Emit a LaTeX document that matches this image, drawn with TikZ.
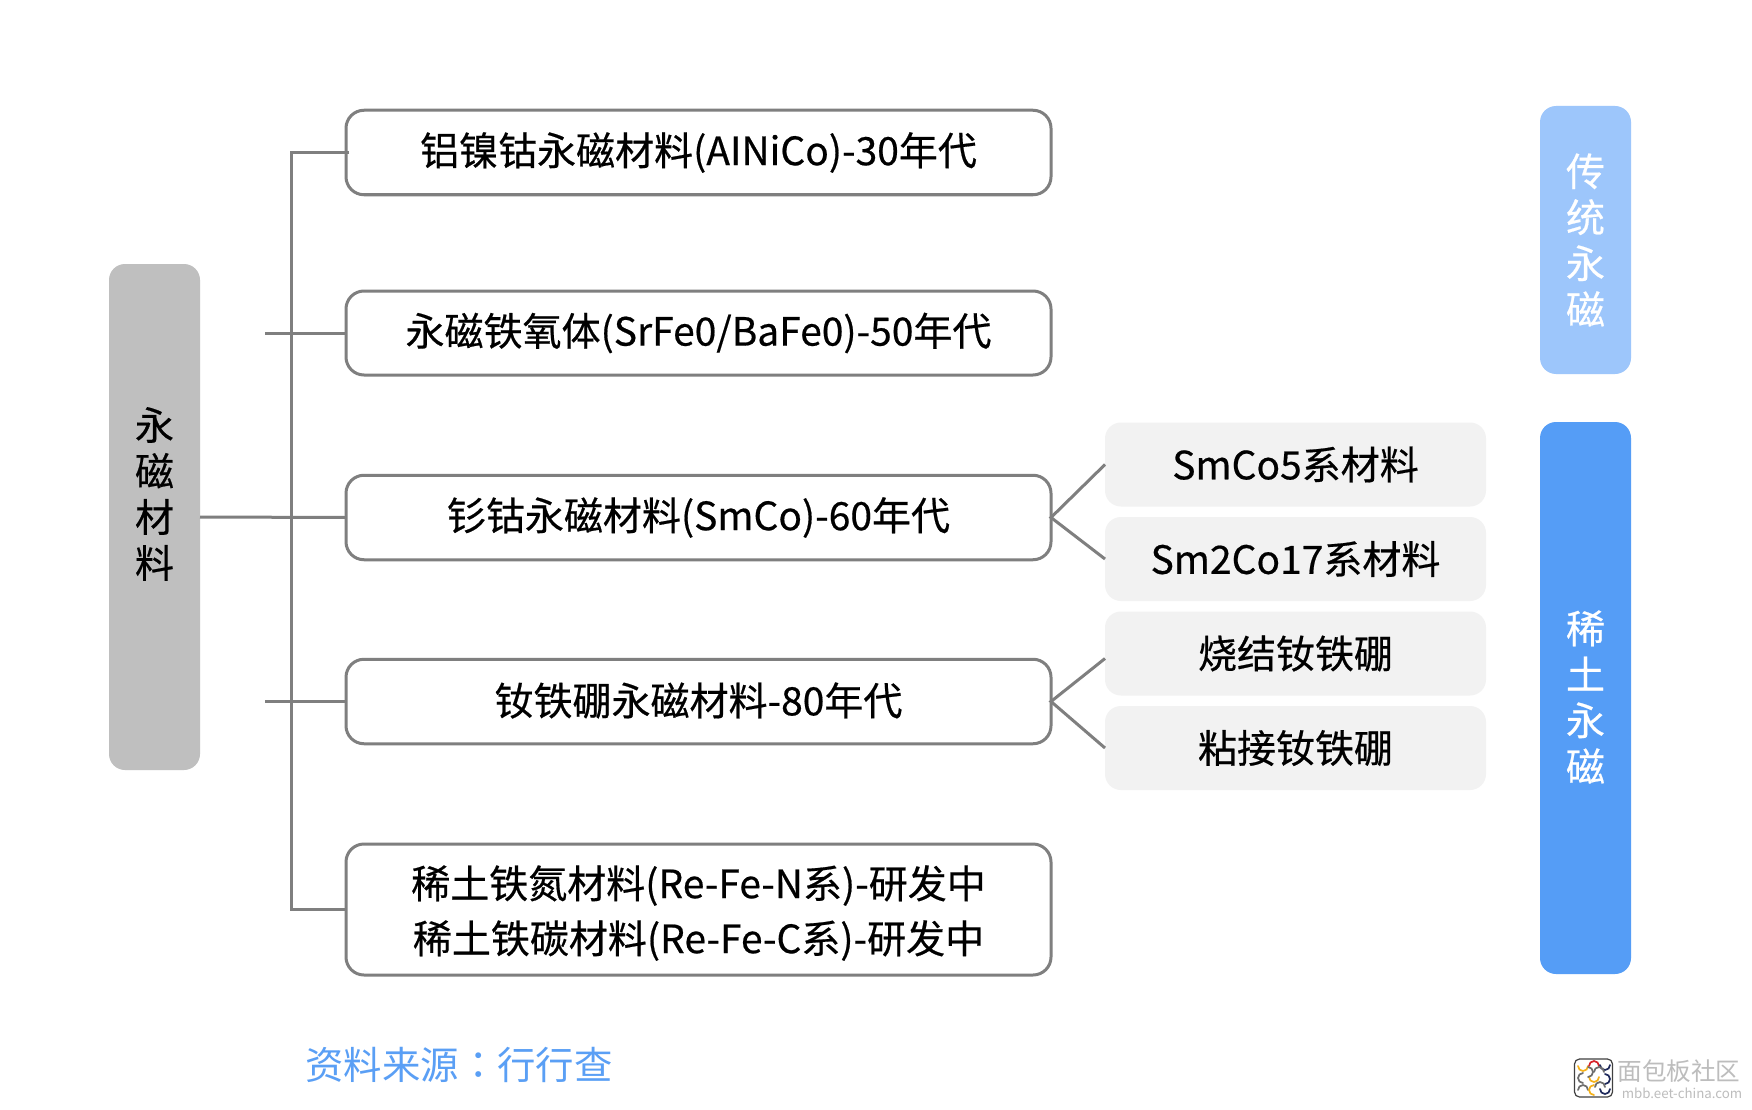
\documentclass[tikz,border=0pt]{standalone}
\usepackage{fontspec}
\setmainfont{Noto Sans CJK SC}
\newfontfamily\heavycjk[RawFeature={embolden=0.5}]{Noto Sans CJK SC}
\newfontfamily\centredpunct{Noto Sans CJK TC}
\newcommand{\nudged}[2]{\raisebox{#1}[\height][\depth]{#2}}
\definecolor{linegray}{HTML}{7F7F7F}
\definecolor{subgray}{HTML}{F2F2F2}
\definecolor{barroot}{HTML}{BFBFBF}
\definecolor{barT}{HTML}{9DC6FB}
\definecolor{barR}{HTML}{559DF6}
\definecolor{srcblue}{HTML}{5A9FF5}
\definecolor{markgray}{HTML}{BDBDBD}
\definecolor{logoorange}{HTML}{F5B21B}
\definecolor{logored}{HTML}{D8232A}
\definecolor{logonavy}{HTML}{1F2A5C}
\definecolor{logogray}{HTML}{6E6E6E}
\begin{document}
\begin{tikzpicture}[x=1pt,y=-1pt,
  line/.style={draw=linegray,line width=3pt},
  lbl/.style={font=\heavycjk\fontsize{39}{55}\selectfont,text=black,align=center,inner sep=0pt,outer sep=0pt},
  mainbox/.style={lbl,draw=linegray,line width=3pt,rounded corners=18pt,fill=white,minimum width=705pt},
  subbox/.style={lbl,fill=subgray,rounded corners=16pt,minimum width=381pt,minimum height=84pt},
  sidebar/.style={inner sep=0pt,outer sep=0pt,rounded corners=16pt,minimum width=91pt},
  vlbl/.style={font=\heavycjk\fontsize{39}{46}\selectfont,align=center,inner sep=0pt},
  curl/.style={line width=1.7pt,line cap=round}
]
\useasboundingbox (0,0) rectangle (1752,1110);
\fill[white] (0,0) rectangle (1752,1110);

% root bar and the two category bars, with their upright labels
\node[sidebar,fill=barroot,minimum height=506pt] (root) at (154.5,517) {};
\node[vlbl,text=black] (rootlbl) at (154.5,494) {永\\磁\\材\\料};
\node[sidebar,fill=barT,minimum height=268pt] (trad) at (1585.5,240) {};
\node[vlbl,text=white] (tradlbl) at (1585.5,240) {传\\统\\永\\磁};
\node[sidebar,fill=barR,minimum height=552pt] (rare) at (1585.5,698) {};
\node[vlbl,text=white] (rarelbl) at (1585.5,697) {稀\\土\\永\\磁};

% main generations
\node[mainbox,minimum height=84.5pt] (a) at (698.5,152.5) {铝镍钴永磁材料(AINiCo)-30年代};
\node[mainbox,minimum height=84pt] (b) at (698.5,333) {永磁铁氧体(SrFe0/BaFe0)-50年代};
\node[mainbox,minimum height=84.5pt] (c) at (698.5,517.5) {钐钴永磁材料(SmCo)-60年代};
\node[mainbox,minimum height=84.5pt] (d) at (698.5,701.5) {\nudged{1pt}{钕铁硼永磁材料-80年代}};
\node[mainbox,minimum height=131pt] (e) at (698.5,909.5) {\nudged{-3.5pt}{稀土铁氮材料(Re-Fe-N系)-研发中}\\\nudged{-3.5pt}{稀土铁碳材料(Re-Fe-C系)-研发中}};

% sub-families
\node[subbox] (s1) at (1295.5,464.5) {SmCo5系材料};
\node[subbox] (s2) at (1295.5,559) {Sm2Co17系材料};
\node[subbox] (s3) at (1295.5,653.5) {烧结钕铁硼};
\node[subbox] (s4) at (1295.5,748) {粘接钕铁硼};

% tree trunk and branches
\coordinate (stubB) at (265,333);
\coordinate (stubD) at (265,701.5);
\draw[line] ([xshift=3pt]a.west) -- (291,152.5) -- (291,909.5) -- (e.west);
\draw[line] (stubB) -- (b.west);
\draw[line] (root.east) -- (c.west);
\draw[line] (stubD) -- (d.west);

% links from generations to sub-families
\draw[line] (s1.west) -- (c.east) -- (s2.west);
\draw[line] ([yshift=-5pt]s3.west) -- (d.east) -- (s4.west);

% source line
\node[font=\fontsize{38.4}{46}\selectfont,text=srcblue,inner sep=0pt] (src) at (459,1065) {资料来源{\centredpunct ：}行行查};

% site mark, bottom right
\node[draw=black!75,line width=1.2pt,fill=white,rounded corners=5pt,minimum size=38pt,inner sep=0pt] (logo) at (1593.5,1078) {};
\foreach \x/\y/\a/\c in {
    1583/1066/180/logoorange, 1594/1066/0/logored,    1605/1065/180/logonavy,
    1583/1078/90/logogray,    1594/1077/180/logoorange, 1605/1079/270/logonavy,
    1583/1090/0/logogray,     1594/1090/90/logoorange, 1605/1089/180/logonavy,
    1599/1072/0/logogray,     1588/1072/270/logogray,  1600/1087/0/logogray}
  \draw[curl,draw=\c] (\x,\y) ++(\a:5pt) arc[start angle=\a,delta angle=180,radius=5pt];
\node[font=\fontsize{24.6}{28}\selectfont,text=markgray,inner sep=0pt] (mark) at (1679,1071) {面包板社区};
\node[font=\fontsize{13.3}{15}\selectfont,text=markgray,inner sep=0pt] (site) at (1682,1093) {mbb.eet-china.com};
\end{tikzpicture}
\end{document}
